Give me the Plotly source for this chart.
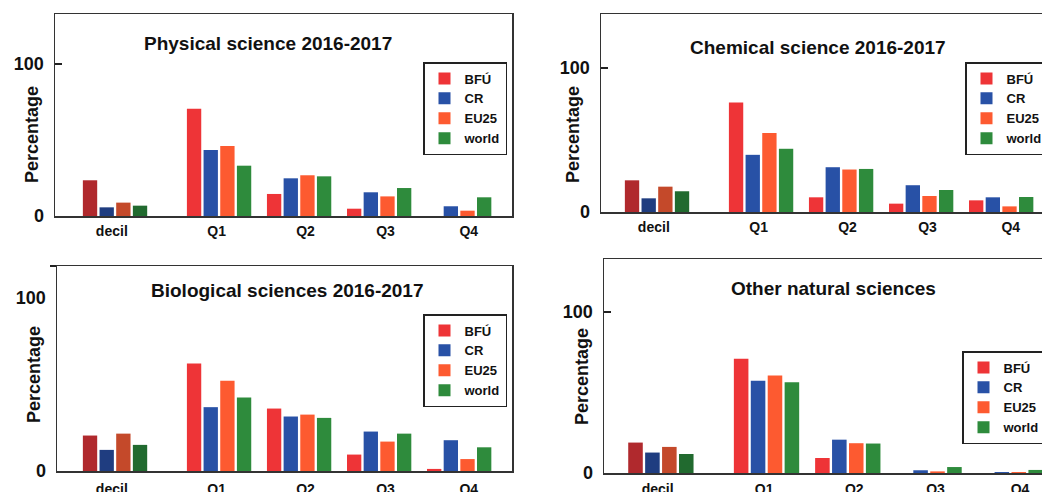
import plotly.graph_objects as go

# ---------------- data ----------------
categories = ["decil", "Q1", "Q2", "Q3", "Q4"]
series_names = ["BFÚ", "CR", "EU25", "world"]

phys_bfu = [23.5, 70.6, 14.5, 4.8, 0]
phys_cr = [5.7, 43.4, 24.8, 15.6, 6.4]
phys_eu25 = [8.8, 46.0, 26.8, 12.9, 3.5]
phys_world = [6.8, 33.1, 26.1, 18.4, 12.3]

chem_bfu = [22.0, 76.1, 10.2, 5.8, 8.1]
chem_cr = [9.5, 39.7, 31.1, 18.6, 10.2]
chem_eu25 = [17.6, 54.8, 29.5, 11.1, 3.9]
chem_world = [14.4, 43.9, 29.9, 15.3, 10.4]

bio_bfu = [20.5, 62.2, 36.1, 9.5, 1.2]
bio_cr = [12.2, 36.9, 31.5, 22.8, 17.8]
bio_eu25 = [21.6, 52.1, 32.6, 17.0, 6.9]
bio_world = [15.1, 42.5, 30.7, 21.6, 13.7]

other_bfu = [18.9, 71.0, 9.3, 0, 0]
other_cr = [12.7, 57.3, 20.7, 1.7, 0.6]
other_eu25 = [16.2, 60.6, 18.5, 1.0, 0.6]
other_world = [11.8, 56.4, 18.3, 3.7, 1.9]

titles = ["Physical science 2016-2017", "Chemical science 2016-2017",
          "Biological sciences 2016-2017", "Other natural sciences"]
y_title = "Percentage"

# ---------------- styling ----------------
FONT = "Liberation Sans, Arial, sans-serif"
colors = ["#ee3437", "#2851a6", "#fd5a30", "#2e8b3c"]
dark_colors = ["#b0292d", "#1f3d80", "#c4492a", "#216a2f"]
# x positions of the category groups on a linear axis (decil stands apart)
group_pos = [0, 1.3, 2.3, 3.3, 4.3]
label_pos = [-0.04, 1.27, 2.38, 3.38, 4.42]

panels = [
    dict(data=[phys_bfu, phys_cr, phys_eu25, phys_world],
         xdom=[55/1042, 512/1042], ydom=[1-216/492, 1-14/492],
         xr=[-0.75, 4.96], yr=[0, 132.9], mirror_y=True,
         title_xy=(268, 43), ytitle_xy=(32, 135), legend_xy=(423, 62),
         ticks100=True, toptick=None, xstand=2),
    dict(data=[chem_bfu, chem_cr, chem_eu25, chem_world],
         xdom=[601/1042, 1.0], ydom=[1-212/492, 1-14/492],
         xr=[-0.70, 4.81], yr=[0, 137.5], mirror_y=False,
         title_xy=(818, 47), ytitle_xy=(573, 135), legend_xy=(965, 62),
         ticks100=True, toptick=None, xstand=2),
    dict(data=[bio_bfu, bio_cr, bio_eu25, bio_world],
         xdom=[57/1042, 512/1042], ydom=[1-471/492, 1-266/492],
         xr=[-0.725, 4.96], yr=[0, 118.5], mirror_y=True,
         title_xy=(287, 290), ytitle_xy=(34, 375), legend_xy=(423, 314),
         ticks100=False, toptick=118.5, xstand=5),
    dict(data=[other_bfu, other_cr, other_eu25, other_world],
         xdom=[604/1042, 1.0], ydom=[1-473/492, 1-259/492],
         xr=[-0.70, 4.69], yr=[0, 132.9], mirror_y=False,
         title_xy=(833, 288), ytitle_xy=(582, 377), legend_xy=(962, 351),
         ticks100=True, toptick=None, xstand=3),
]

W, H = 1042, 492
fig = go.Figure()
layout = dict(
    width=W, height=H,
    margin=dict(l=0, r=0, t=0, b=0, autoexpand=False),
    paper_bgcolor="white", plot_bgcolor="white",
    barmode="group", bargap=0.167, bargroupgap=0.14,
    font=dict(family=FONT, color="#111"),
    annotations=[],
)

for i, p in enumerate(panels):
    n = i + 1
    xa = "x" if n == 1 else f"x{n}"
    ya = "y" if n == 1 else f"y{n}"
    lg = "legend" if n == 1 else f"legend{n}"
    for s, (name, vals) in enumerate(zip(series_names, p["data"])):
        # decil bar (darker shade), same slot as the series
        fig.add_trace(go.Bar(
            x=group_pos[:1], y=vals[:1], name=name,
            marker=dict(color=dark_colors[s], line=dict(width=0)),
            offsetgroup=name, xaxis=xa, yaxis=ya, legend=lg,
            showlegend=False,
        ))
        fig.add_trace(go.Bar(
            x=group_pos[1:], y=vals[1:], name=name,
            marker=dict(color=colors[s], line=dict(width=0)),
            offsetgroup=name, xaxis=xa, yaxis=ya, legend=lg,
            showlegend=True,
        ))
    xkey = "xaxis" if n == 1 else f"xaxis{n}"
    ykey = "yaxis" if n == 1 else f"yaxis{n}"
    layout[xkey] = dict(
        domain=p["xdom"], range=p["xr"], anchor=ya,
        tickmode="array", tickvals=label_pos, ticktext=categories,
        ticks="", showgrid=False, zeroline=False,
        showline=True, linecolor="#333", linewidth=1.5, mirror=True,
        tickfont=dict(family=FONT, size=14, weight="bold", color="#111"),
        ticklabelstandoff=p["xstand"], fixedrange=True,
    )
    ydict = dict(
        domain=p["ydom"], range=p["yr"], anchor=xa,
        tickmode="array", tickvals=[0, 100], ticktext=["0", "100"],
        ticks="inside" if p["ticks100"] else "", ticklen=7, tickwidth=2,
        tickcolor="#222", showgrid=False, zeroline=False,
        showline=True, linecolor="#333", linewidth=1.5, mirror=p["mirror_y"],
        tickfont=dict(family=FONT, size=18, weight="bold", color="#111"),
        ticklabelstandoff=6, fixedrange=True,
    )
    if p["toptick"] is not None:
        ydict["minor"] = dict(tickmode="array", tickvals=[p["toptick"]],
                              ticks="outside", ticklen=6, tickwidth=2,
                              tickcolor="#222", showgrid=False)
    layout[ykey] = ydict

    tx, ty = p["title_xy"]
    layout["annotations"].append(dict(
        text=titles[i], x=tx / W, y=1 - ty / H, xref="paper", yref="paper",
        xanchor="center", yanchor="middle", showarrow=False,
        font=dict(family=FONT, size=19, weight="bold", color="#111")))
    ax_, ay_ = p["ytitle_xy"]
    layout["annotations"].append(dict(
        text=y_title, x=ax_ / W, y=1 - ay_ / H, xref="paper", yref="paper",
        xanchor="center", yanchor="middle", showarrow=False, textangle=-90,
        font=dict(family=FONT, size=18, weight="bold", color="#111")))
    lx, ly = p["legend_xy"]
    layout[lg] = dict(
        x=lx / W, y=1 - ly / H, xanchor="left", yanchor="top",
        xref="paper", yref="paper",
        bgcolor="white", bordercolor="#222", borderwidth=1.5,
        font=dict(family=FONT, size=13, weight="bold", color="#111"),
        tracegroupgap=0, itemclick=False, itemdoubleclick=False,
    )

fig.update_layout(**layout)
fig.write_html(
    "out.html",
    config={"displayModeBar": False, "staticPlot": True},
    post_script="document.body.style.margin='0';document.body.style.overflow='hidden';",
)
